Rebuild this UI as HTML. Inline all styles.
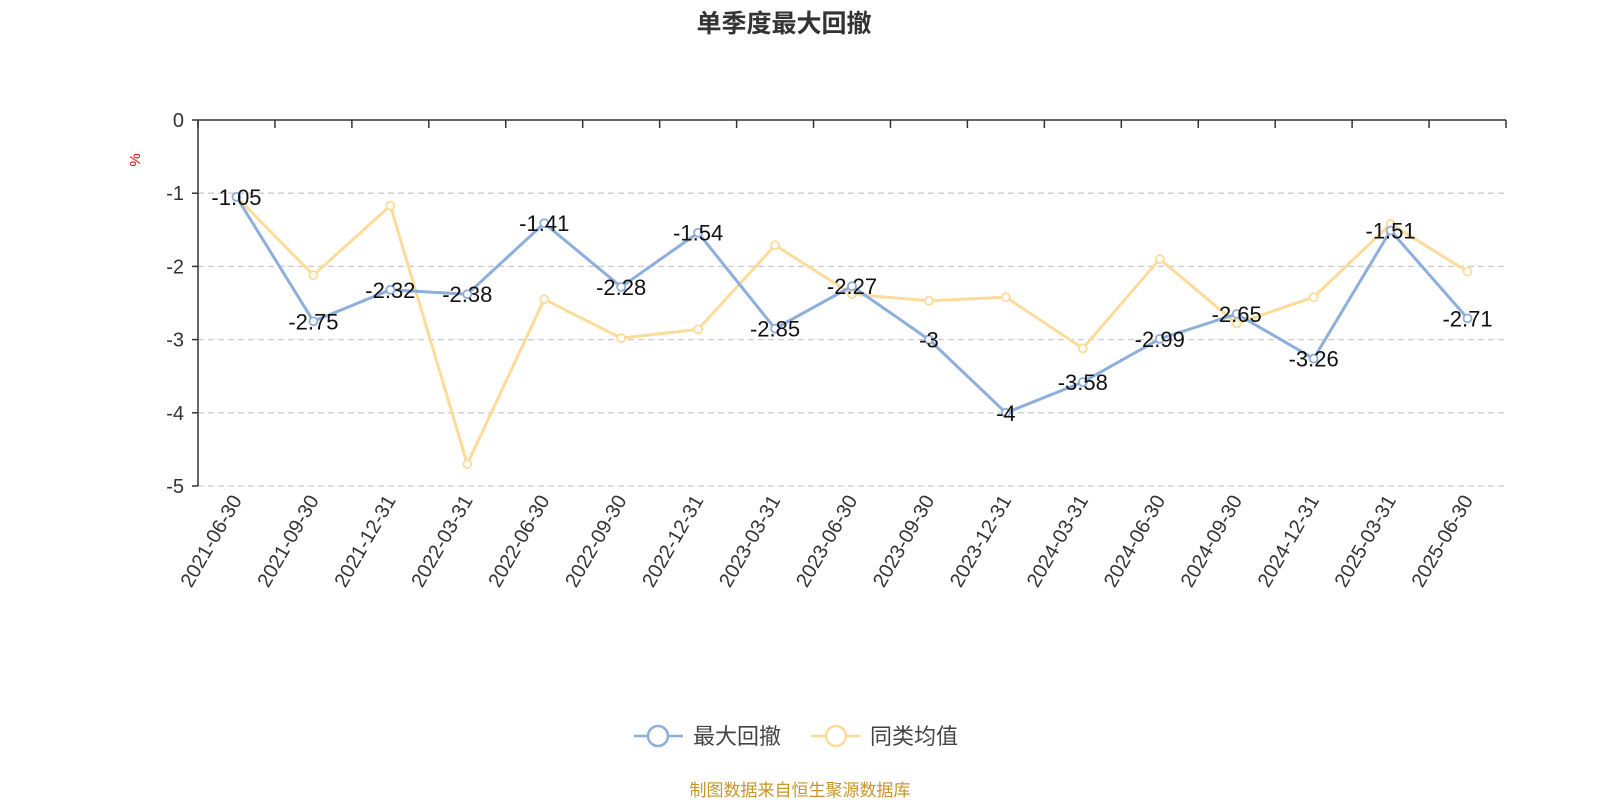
<!DOCTYPE html>
<html><head><meta charset="utf-8"><style>
body{margin:0;background:#fff;}
svg{display:block;font-family:"Liberation Sans","Noto Sans CJK SC",sans-serif;}
</style></head><body>
<svg id="c" width="1600" height="800">
<text x="784" y="32" text-anchor="middle" font-size="25" font-weight="bold" fill="#333">单季度最大回撤</text>
<text x="0" y="0" transform="translate(140,160) rotate(-90)" text-anchor="middle" font-size="15" fill="#e00">%</text>
<g id="grid"></g><g id="series"></g><g id="labels"></g>
<g>
<g>
<line x1="634" y1="736" x2="683" y2="736" stroke="#8eaedc" stroke-width="2.5"/>
<circle cx="658" cy="736" r="10" fill="#fff" stroke="#8eaedc" stroke-width="2.5"/>
<text x="693" y="744" font-size="22" fill="#444">最大回撤</text></g>
<g>
<line x1="811" y1="736" x2="860" y2="736" stroke="#fddb9a" stroke-width="2.5"/>
<circle cx="836" cy="736" r="10" fill="#fff" stroke="#fddb9a" stroke-width="2.5"/>
<text x="870" y="744" font-size="22" fill="#444">同类均值</text></g>
</g>
<text x="800" y="796" text-anchor="middle" font-size="17" fill="#c8962a">制图数据来自恒生聚源数据库</text>
</svg>
<script>
const categories=["2021-06-30","2021-09-30","2021-12-31","2022-03-31","2022-06-30","2022-09-30","2022-12-31","2023-03-31","2023-06-30","2023-09-30","2023-12-31","2024-03-31","2024-06-30","2024-09-30","2024-12-31","2025-03-31","2025-06-30"];
const maxDrawdown=[-1.05,-2.75,-2.32,-2.38,-1.41,-2.28,-1.54,-2.85,-2.27,-3,-4,-3.58,-2.99,-2.65,-3.26,-1.51,-2.71];
const categoryAvg=[-1.05,-2.12,-1.17,-4.7,-2.45,-2.98,-2.86,-1.71,-2.38,-2.47,-2.42,-3.12,-1.9,-2.78,-2.42,-1.42,-2.07];
const yTicks=[0,-1,-2,-3,-4,-5];
const NS="http://www.w3.org/2000/svg";
const L=198,R=1506,T=120,B=486,yMin=-5,yMax=0;
const band=(R-L)/categories.length;
const xs=i=>L+band*(i+0.5);
const ys=v=>T+(yMax-v)/(yMax-yMin)*(B-T);
function mk(tag,a,p){const e=document.createElementNS(NS,tag);for(const k in a)e.setAttribute(k,a[k]);p.appendChild(e);return e;}
const g=document.getElementById('grid'),s=document.getElementById('series'),lb=document.getElementById('labels');
yTicks.forEach(v=>{
 if(v!==0){const ln=mk('line',{x1:L,x2:R,y1:ys(v),y2:ys(v),stroke:'#ccc','stroke-dasharray':'6,4','stroke-width':1.3},g);
 
 }
 const t=mk('text',{x:L-14,y:ys(v)+7,'text-anchor':'end','font-size':20,fill:'#333'},g);t.textContent=v;
 
 
});
const ya=mk('line',{x1:L,x2:L,y1:ys(0),y2:B,stroke:'#333','stroke-width':1.5},g);


yTicks.forEach(v=>mk('line',{x1:L-6,x2:L,y1:ys(v),y2:ys(v),stroke:'#333','stroke-width':1.5},g));
const xa=mk('line',{x1:L,x2:R,y1:ys(0),y2:ys(0),stroke:'#333','stroke-width':1.5},g);


for(let i=0;i<=categories.length;i++)mk('line',{x1:L+band*i,x2:L+band*i,y1:ys(0),y2:ys(0)+8,stroke:'#333','stroke-width':1.5},g);
categories.forEach((c,i)=>{const t=mk('text',{transform:`translate(${xs(i)+6},${B+14}) rotate(-60)`,'text-anchor':'end','font-size':20,fill:'#333'},g);t.textContent=c;
 
 });
function series(data,color,name,labels){
 const pl=mk('polyline',{points:data.map((v,i)=>xs(i)+','+ys(v)).join(' '),fill:'none',stroke:color,'stroke-width':3},s);
 
 
 data.forEach((v,i)=>{const c=mk('circle',{cx:xs(i),cy:ys(v),r:4,fill:'#fff',stroke:color,'stroke-width':1.8},s);
  
  
  if(labels){const t=mk('text',{x:xs(i),y:ys(v)+8,'text-anchor':'middle','font-size':22,fill:'#111'},lb);t.textContent=v;
  
  }
 });
}
series(categoryAvg,'#fddb9a','category-average',false);
series(maxDrawdown,'#8eaedc','max-drawdown',true);
</script>
</body></html>
